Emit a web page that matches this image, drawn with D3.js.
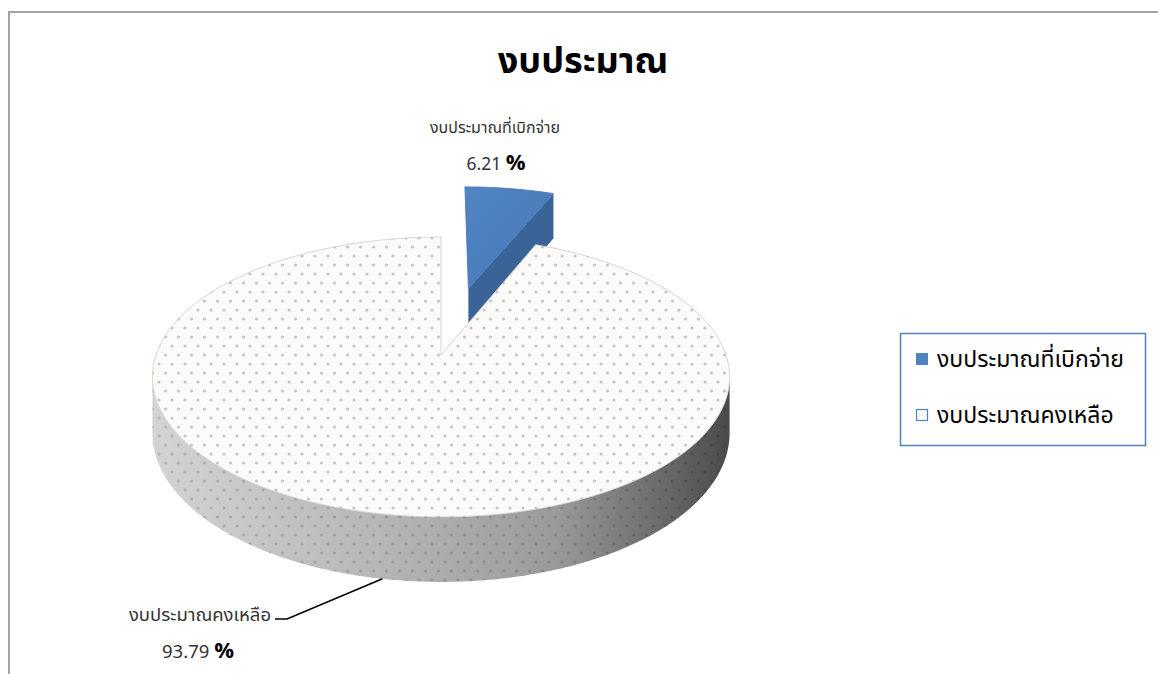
<!DOCTYPE html>
<html>
<head>
<meta charset="utf-8">
<script src="https://cdn.jsdelivr.net/npm/d3@7"></script>
<style>
  body { margin: 0; background: #fff; }
  svg { display: block; font-family: Tahoma, "Noto Sans Thai", "DejaVu Sans", sans-serif; }
</style>
</head>
<body>
<script>
const title = "งบประมาณ";
const categories = ["งบประมาณที่เบิกจ่าย", "งบประมาณคงเหลือ"];
const values = [6.21, 93.79];
const percentText = ["6.21", "93.79"];
const explodeBy = [0.537, 0];

const W = 1158, H = 674;
const svg = d3.select("body").append("svg").attr("width", W).attr("height", H);
const defs = svg.append("defs");

// dotted fill like the excel texture
const dots = defs.append("pattern").attr("id", "dots")
  .attr("patternUnits", "userSpaceOnUse").attr("width", 13).attr("height", 18);
dots.append("circle").attr("cx", 3).attr("cy", 4).attr("r", 1.6).attr("fill", "#c9c4c0");
dots.append("circle").attr("cx", 9.5).attr("cy", 13).attr("r", 1.6).attr("fill", "#c9c4c0");

const darkDots = defs.append("pattern").attr("id", "darkDots")
  .attr("patternUnits", "userSpaceOnUse").attr("width", 13).attr("height", 18);
darkDots.append("circle").attr("cx", 3).attr("cy", 4).attr("r", 1.6).attr("fill", "#000").attr("opacity", 0.15);
darkDots.append("circle").attr("cx", 9.5).attr("cy", 13).attr("r", 1.6).attr("fill", "#000").attr("opacity", 0.15);

const wallGrad = defs.append("linearGradient").attr("id", "wallGrad")
  .attr("gradientUnits", "userSpaceOnUse").attr("x1", 150).attr("x2", 730).attr("y1", 0).attr("y2", 0);
[[0, "#d4d4d4"], [0.4, "#b6b6b6"], [0.7, "#9a9a9a"], [0.85, "#737373"], [1, "#4a4a4a"]]
  .forEach(s => wallGrad.append("stop").attr("offset", s[0]).attr("stop-color", s[1]));

const blueGrad = defs.append("linearGradient").attr("id", "blueGrad")
  .attr("x1", 0).attr("x2", 1).attr("y1", 0).attr("y2", 1);
blueGrad.append("stop").attr("offset", 0).attr("stop-color", "#5285c4");
blueGrad.append("stop").attr("offset", 1).attr("stop-color", "#4677b7");

// chart frame
svg.append("path").attr("d", `M9,${H} V12 H${W}`)
  .attr("fill", "none").attr("stroke", "#a3a3a3").attr("stroke-width", 2);

svg.append("text").attr("x", 583).attr("y", 73).attr("text-anchor", "middle")
  .attr("font-size", 36).attr("font-weight", "bold").attr("fill", "#000").text(title);

// perspective projection of the 3d pie
const cx = 441, cy = 355, F = 285, G = 136.5, Hd = 54.8, c = 0.157;
function proj(a, r, y, ex, ez) {
  const X = r * Math.sin(a) + ex, Z = r * Math.cos(a) + ez;
  const w = 1 + c * Z;
  return [cx + F * X / w, cy - G * Z / w + Hd * y / w];
}
function arcPts(a0, a1, y, ex, ez) {
  const n = Math.max(2, Math.ceil(Math.abs(a1 - a0) / 0.01));
  return d3.range(n + 1).map(i => proj(a0 + (a1 - a0) * i / n, 1, y, ex, ez));
}
const line = d3.line();

const arcs = d3.pie().sort(null).value(d => d)(values);
const slices = arcs.map((d, i) => {
  const mid = (d.startAngle + d.endAngle) / 2;
  return { ...d, i, ex: explodeBy[i] * Math.sin(mid), ez: explodeBy[i] * Math.cos(mid) };
});

const silL = Math.acos(-c), silR = 2 * Math.PI - Math.acos(-c);

// farthest slice first
slices.slice().sort((a, b) => b.ez - a.ez).forEach(s => {
  const g = svg.append("g");
  const blue = s.i === 0;
  // outer wall, only the part facing us
  const w0 = Math.max(s.startAngle, silL), w1 = Math.min(s.endAngle, silR);
  if (w1 > w0) {
    const pts = arcPts(w0, w1, 0, s.ex, s.ez).concat(arcPts(w1, w0, 1, s.ex, s.ez));
    g.append("path").attr("d", line(pts) + "Z").attr("fill", blue ? "#3b659b" : "url(#wallGrad)");
    if (!blue) g.append("path").attr("d", line(pts) + "Z").attr("fill", "url(#darkDots)");
  }
  // cut face at the end angle (faces right, visible)
  const e = s.endAngle;
  if (s.endAngle < 2 * Math.PI - 1e-6) {
    const face = [proj(0, 0, 0, s.ex, s.ez), proj(e, 1, 0, s.ex, s.ez),
                  proj(e, 1, 1, s.ex, s.ez), proj(0, 0, 1, s.ex, s.ez)];
    g.append("path").attr("d", line(face) + "Z").attr("fill", blue ? "#3a6498" : "#8a8a8a");
  }
  // top face
  const top = [proj(0, 0, 0, s.ex, s.ez)].concat(arcPts(s.startAngle, s.endAngle, 0, s.ex, s.ez));
  g.append("path").attr("d", line(top) + "Z")
    .attr("fill", blue ? "url(#blueGrad)" : "#fcfbf9")
    .attr("stroke", blue ? "#4a7cba" : "#d0d0d0").attr("stroke-width", 0.9);
  if (!blue) g.append("path").attr("d", line(top) + "Z").attr("fill", "url(#dots)");
});

// data labels
const lab = svg.append("g").attr("fill", "#333");
lab.append("text").attr("x", 495).attr("y", 133).attr("text-anchor", "middle")
  .attr("font-size", 16).text(categories[0]);
const p1 = lab.append("text").attr("x", 496).attr("y", 170).attr("text-anchor", "middle").attr("font-size", 17.5);
p1.append("tspan").text(percentText[0] + " ");
p1.append("tspan").attr("font-weight", "bold").attr("font-size", 22).attr("fill", "#000").text("%");

lab.append("text").attr("x", 271).attr("y", 621).attr("text-anchor", "end")
  .attr("font-size", 18.5).text(categories[1]);
const p2 = lab.append("text").attr("x", 198).attr("y", 658).attr("text-anchor", "middle").attr("font-size", 18.5);
p2.append("tspan").text(percentText[1] + "  ");
p2.append("tspan").attr("font-weight", "bold").attr("font-size", 22).attr("fill", "#000").text("%");

// leader line to the wall of the big slice
const anchor = proj(190 / 180 * Math.PI, 1, 1, 0, 0);
svg.append("path").attr("d", line([[275, 619], [287, 619], anchor]))
  .attr("fill", "none").attr("stroke", "#000").attr("stroke-width", 1.6);

// legend
const leg = svg.append("g");
leg.append("rect").attr("x", 900.5).attr("y", 333.5).attr("width", 245).attr("height", 112)
  .attr("fill", "#fff").attr("stroke", "#4f81bd").attr("stroke-width", 1.5);
categories.forEach((name, i) => {
  const y = 359 + i * 56;
  if (i === 0) {
    leg.append("rect").attr("x", 916).attr("y", y - 6).attr("width", 12).attr("height", 12).attr("fill", "#4f81bd");
  } else {
    leg.append("rect").attr("x", 916.5).attr("y", y - 5.5).attr("width", 11).attr("height", 11)
      .attr("fill", "#fcfbf9").attr("stroke", "#4f81bd").attr("stroke-width", 1.2);
  }
  leg.append("text").attr("x", 937).attr("y", y + 8).attr("font-size", 23).attr("fill", "#000").text(name);
});
</script>
</body>
</html>
